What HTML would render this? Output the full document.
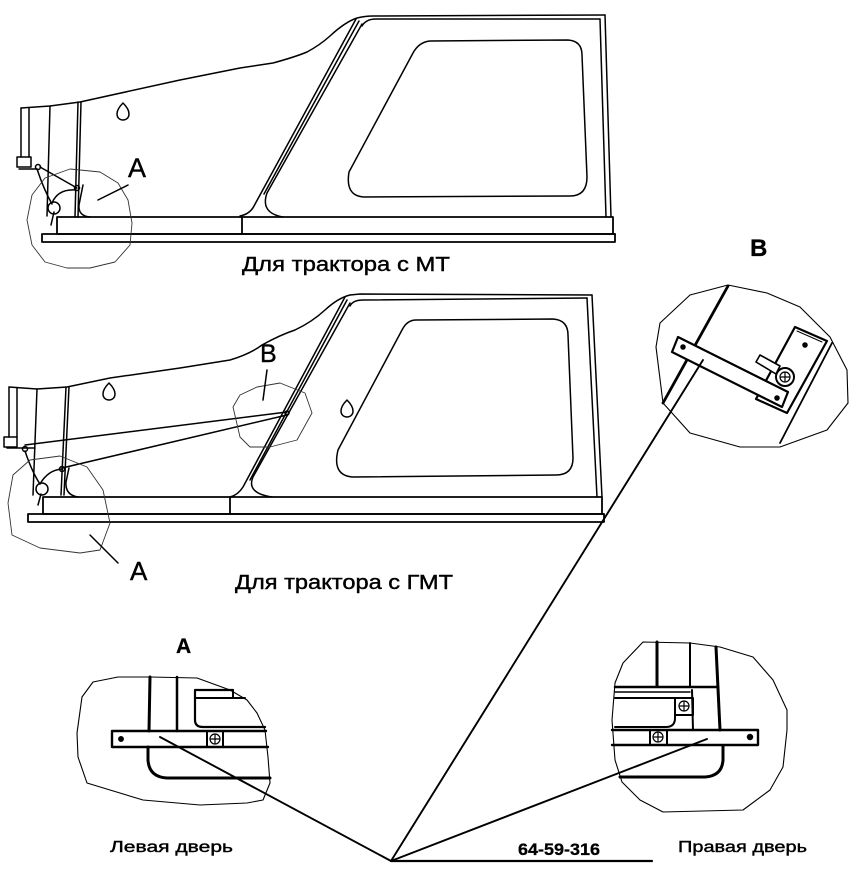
<!DOCTYPE html>
<html><head><meta charset="utf-8"><style>
html,body{margin:0;padding:0;background:#fff;}
svg{display:block;}
text{font-family:"Liberation Sans",Arial,sans-serif;fill:#000;}
</style></head><body>
<svg width="864" height="881" viewBox="0 0 864 881" xmlns="http://www.w3.org/2000/svg">
<g fill="none" stroke="#000" stroke-width="1.5" stroke-linejoin="round" stroke-linecap="round">

<!-- ===== UPPER CAB (MT) ===== -->
<path d="M21,108 L50,106 L80,102 L180,80 L240,68 L273,63 Q295,57 307,52 Q320,45 330,36 Q345,22 357,18 Q365,16 373,16 L605,15"/>
<path d="M605,15 L611,217"/>
<path d="M600,19 L606,217"/>
<path d="M362,26 Q366,19 376,19 L600,19"/>
<path d="M356,19 L254,206 Q250,214 240,216"/>
<path d="M359,21 L264,194"/>
<path d="M362,24 L267,193 Q260,213 283,217"/>
<path d="M430,41 L568,40 Q582,41 582,55 L587,177 Q587,196 570,196 L364,197 Q345,196 349,172 L413,53 Q419,42 430,41 Z"/>
<!-- band & rail -->
<path d="M57,217 L613,217 M57,234 L615,234 M57,217 L57,234 M613,217 L613,234 M242,217 L242,234" stroke-width="1.8"/>
<rect x="42" y="234" width="573" height="8" stroke-width="1.8"/>
<!-- left structures -->
<path d="M21,108 L21,157 M29,108 L29,157"/>
<rect x="17" y="157" width="14" height="10"/>
<path d="M19,169 L37,169"/>
<path d="M50,106 L47,216"/>
<path d="M78,102 L75,217 M81,102 L78,217"/>
<path d="M83,185 L79,205 Q78,216 90,217"/>
<!-- hinge -->
<circle cx="38" cy="167" r="2.5"/>
<path d="M40,167 L77,188"/>
<circle cx="77" cy="188" r="2.5"/>
<path d="M37,169 Q44,190 52,204"/>
<path d="M52,203 Q58,189 75,190"/>
<circle cx="54" cy="208" r="6"/>
<path d="M54,212 L51,225"/>
<!-- keyhole -->
<path d="M123,103 C120,106 117,110 117,114 C117,118 120,120 123,120 C126,120 129,118 129,114 C129,110 126,106 123,103 Z"/>
<!-- callout A -->
<path d="M70,169 L100,172 L118,183 L128,200 L132,223 L130,245 L115,262 L90,268 L67,268 L45,262 L32,245 L27,220 L32,195 L45,178 Z" stroke="#333" stroke-width="0.9"/>
<path d="M98,200 L128,185"/>

<!-- ===== LOWER CAB (GMT) ===== -->
<path d="M9,387 L37,389 L67,387 L110,378 L180,368 L230,360 Q250,354 262,345 Q280,335 295,330 Q312,322 325,310 Q338,298 350,295 L360,294 L592,295"/>
<path d="M592,295 L602,497"/>
<path d="M587,298 L597,497"/>
<path d="M350,306 Q353,300 363,300 L587,298"/>
<path d="M345,297 L243,487 Q238,495 230,497"/>
<path d="M347,300 L250,480"/>
<path d="M350,303 L253,477 Q246,493 272,497"/>
<path d="M416,320 L553,319 Q568,320 568,335 L573,458 Q573,475 556,475 L352,477 Q332,475 338,450 L402,330 Q407,320 416,320 Z"/>
<path d="M347,400 C344,403 341,407 341,411 C341,415 344,417 347,417 C350,417 353,415 353,411 C353,407 350,403 347,400 Z"/>
<path d="M109,383 C106,386 103,390 103,394 C103,398 106,400 109,400 C112,400 115,398 115,394 C115,390 112,386 109,383 Z"/>
<!-- band & rail -->
<path d="M43,497 L602,497 M43,514 L604,514 M43,497 L43,514 M602,497 L602,514 M230,497 L230,514" stroke-width="1.8"/>
<rect x="28" y="514" width="576" height="8" stroke-width="1.8"/>
<!-- left structures -->
<path d="M9,387 L9,437 M17,388 L17,437"/>
<rect x="4" y="437" width="13" height="10"/>
<path d="M7,448 L35,448"/>
<path d="M37,389 L33,495"/>
<path d="M66,387 L61,495 M69,387 L64,495"/>
<path d="M69,468 L66,482 Q65,495 78,497"/>
<!-- rods -->
<path d="M25,445 L287,412"/>
<path d="M62,468 L287,415"/>
<circle cx="287" cy="413" r="2"/>
<!-- hinge -->
<circle cx="25" cy="449" r="2.5"/>
<path d="M25,451 Q32,472 40,484"/>
<path d="M40,484 Q48,470 62,469"/>
<circle cx="62" cy="469" r="2.5"/>
<circle cx="42" cy="489" r="6"/>
<path d="M41,494 L38,505"/>
<!-- callout A -->
<path d="M60,456 L87,467 L103,490 L110,523 L100,550 L80,553 L40,548 L12,535 L8,503 L13,475 L30,460 Z" stroke="#333" stroke-width="0.9"/>
<path d="M90,535 L118,563"/>
<!-- callout B -->
<path d="M257,387 L280,383 L305,393 L312,413 L297,440 L270,447 L250,447 L240,437 L233,407 L240,395 Z" stroke="#333" stroke-width="0.9"/>
<path d="M267,370 L263,400"/>

<!-- ===== DETAIL B ===== -->
<path d="M728,285 L767,293 L800,307 L830,337 L847,370 L848,403 L827,430 L780,447 L740,447 L690,433 L663,403 L656,347 L660,323 L690,295 Z" stroke-width="1.1"/>
<path d="M728,286 L663,403" stroke-width="2.8"/>
<path d="M832,343 L780,443" stroke-width="1.8"/>
<path d="M795,327 L827,341 L787,413 L756,399 Z" stroke-width="2.2"/>
<path d="M797,331 L822,342" stroke-width="1"/>
<path d="M678,337 L788,392 L782,407 L672,352 Z" stroke-width="2.2" fill="#fff"/>
<circle cx="683" cy="347" r="2" fill="#000"/>
<circle cx="777" cy="398" r="2" fill="#000"/>
<circle cx="805" cy="345" r="2" fill="#000"/>
<path d="M756,362 L760,355 L780,366 L776,374 Z" stroke-width="1.6" fill="#fff"/>
<circle cx="785" cy="377" r="9" stroke-width="2" fill="#fff"/>
<circle cx="785" cy="377" r="5" stroke-width="1.2"/>
<path d="M781,377 L789,377 M785,373 L785,381" stroke-width="1.2"/>
<path d="M703,360 L391,861" stroke-width="1.9"/>

<!-- ===== DETAIL A LEFT ===== -->
<path d="M93,682 L118,677 L150,677 L197,678 L230,690 L247,700 L257,713 L265,730 L268,757 L270,783 L263,800 L247,803 L200,805 L143,800 L110,790 L87,783 L78,757 L77,733 L82,697 Z" stroke-width="1.1"/>
<path d="M150,677 L149,731" stroke-width="3"/>
<path d="M148,747 L148,760 Q149,777 167,778 L270,778" stroke-width="3"/>
<path d="M177,677 L177,731" stroke-width="2.5"/>
<path d="M233,690 L195,690 L195,720 Q195,727 203,727 L265,727" stroke-width="2.2"/>
<path d="M195,698 L245,698 M233,690 L233,698" stroke-width="2"/>
<path d="M112,731 L266,731 M112,747 L268,747 M112,731 L112,747" stroke-width="2.4"/>
<rect x="207" y="731" width="16" height="16" stroke-width="2"/>
<circle cx="215" cy="739" r="5" stroke-width="1.2"/>
<path d="M211,739 L219,739 M215,735 L215,743" stroke-width="1.2"/>
<circle cx="121" cy="739" r="2.2" fill="#000"/>
<path d="M160,737 L391,861" stroke-width="1.9"/>

<!-- ===== DETAIL A RIGHT ===== -->
<path d="M643,642 L690,643 L720,647 L753,657 L773,680 L787,710 L787,730 L783,767 L770,790 L743,810 L663,812 L640,800 L622,782 L615,760 L612,720 L615,683 L623,663 Z" stroke-width="1.1"/>
<path d="M657,642 L657,686" stroke-width="3"/>
<path d="M690,643 L690,687 M692,690 L693,730" stroke-width="2"/>
<path d="M716,647 L720,730" stroke-width="3"/>
<path d="M723,746 L723,760 Q722,776 705,777 L620,777" stroke-width="3"/>
<path d="M615,687 L718,687" stroke-width="2.5"/>
<path d="M615,692 L690,692" stroke-width="1.4"/>
<path d="M615,698 L675,698 L675,718 Q675,727 666,727 L615,727" stroke-width="2"/>
<rect x="675" y="698" width="18" height="17" stroke-width="2"/>
<circle cx="684" cy="706" r="5" stroke-width="1.2"/>
<path d="M680,706 L688,706 M684,702 L684,710" stroke-width="1.2"/>
<path d="M612,730 L758,730 M612,745 L758,745 M758,730 L758,745" stroke-width="2.4"/>
<rect x="650" y="730" width="17" height="15" stroke-width="2"/>
<circle cx="658" cy="737" r="5" stroke-width="1.2"/>
<path d="M654,737 L662,737 M658,733 L658,741" stroke-width="1.2"/>
<circle cx="750" cy="737" r="2.5" fill="#000"/>
<path d="M707,739 L391,861" stroke-width="1.9"/>

<!-- baseline -->
<path d="M391,861 L652,861" stroke-width="2.2"/>
</g>

<!-- ===== TEXT ===== -->
<g stroke="#000" stroke-width="0.4">
<text x="128" y="177" font-size="27">A</text>
<text x="242" y="271" font-size="20" textLength="208" lengthAdjust="spacingAndGlyphs">Для трактора с МТ</text>
<text x="260" y="362" font-size="25">B</text>
<text x="130" y="580" font-size="26">A</text>
<text x="235" y="589" font-size="20" textLength="218" lengthAdjust="spacingAndGlyphs">Для трактора с ГМТ</text>
<text x="110" y="852" font-size="16" textLength="123" lengthAdjust="spacingAndGlyphs">Левая дверь</text>
<text x="678" y="852" font-size="16" textLength="129" lengthAdjust="spacingAndGlyphs">Правая дверь</text>
</g>
<g stroke="#000" stroke-width="0.3">
<text x="750" y="256" font-size="24" font-weight="bold">B</text>
<text x="176" y="653" font-size="21" font-weight="bold">A</text>
<text x="518" y="855" font-size="17" font-weight="bold" textLength="82" lengthAdjust="spacingAndGlyphs">64-59-316</text>
</g>
</svg>
</body></html>
